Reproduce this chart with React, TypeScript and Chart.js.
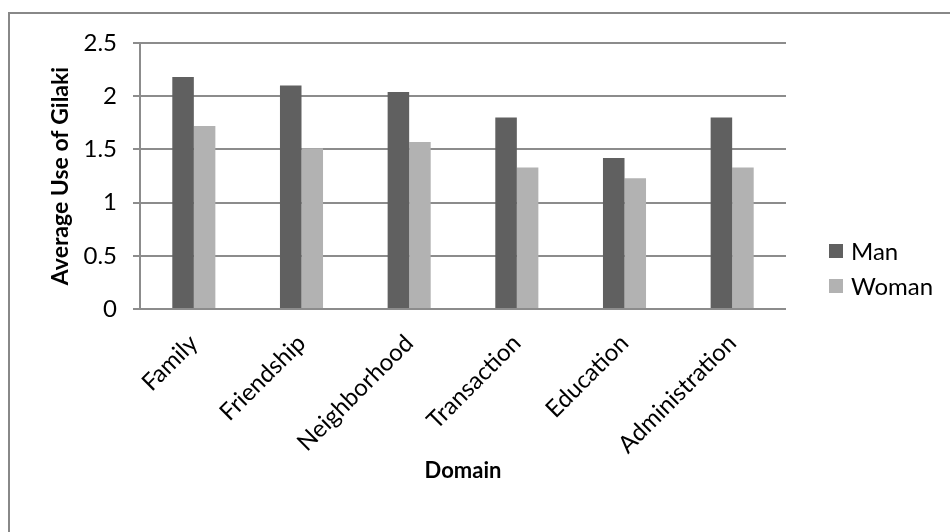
import React, { useEffect, useRef } from "react";
import { Chart, registerables } from "chart.js";

Chart.register(...registerables);

const domains = ["Family", "Friendship", "Neighborhood", "Transaction", "Education", "Administration"];
const manValues = [2.18, 2.1, 2.04, 1.8, 1.42, 1.8];
const womanValues = [1.72, 1.51, 1.57, 1.33, 1.23, 1.33];
const yTicks = [0, 0.5, 1, 1.5, 2, 2.5];

const FONT = "Lato, 'Open Sans', sans-serif";
const GRID = "#8c8c8c";

// Legend drawn at the right side, stacked vertically
const sideLegend = {
  id: "sideLegend",
  afterDraw(chart: any) {
    const ctx = chart.ctx;
    const x = 829;
    const ys = [251, 286];
    ctx.save();
    chart.data.datasets.forEach((ds: any, i: number) => {
      const y = ys[i];
      ctx.fillStyle = ds.backgroundColor;
      ctx.fillRect(x, y - 7, 14, 14);
      ctx.fillStyle = "#000";
      ctx.font = `24px ${FONT}`;
      ctx.textBaseline = "middle";
      ctx.textAlign = "left";
      ctx.fillText(ds.label, x + 22, y + 1);
    });
    ctx.restore();
  },
};

export default function App() {
  const ref = useRef<HTMLCanvasElement | null>(null);

  useEffect(() => {
    if (!ref.current) return;
    const chart = new Chart(ref.current, {
      type: "bar",
      data: {
        labels: domains,
        datasets: [
          { label: "Man", data: manValues, backgroundColor: "#606060" },
          { label: "Woman", data: womanValues, backgroundColor: "#b2b2b2" },
        ],
      },
      options: {
        animation: false,
        responsive: false,
        layout: { padding: { left: 0, top: 43, right: 164, bottom: 0 } },
        datasets: {
          bar: { categoryPercentage: 0.4, barPercentage: 1, borderWidth: 0 },
        },
        plugins: {
          legend: { display: false },
          tooltip: { enabled: false },
        },
        scales: {
          x: {
            grid: { display: false, drawTicks: false },
            border: { display: false },
            ticks: {
              color: "#000",
              font: { family: FONT, size: 24 },
              minRotation: 45,
              maxRotation: 45,
              padding: 20,
            },
            title: {
              display: true,
              text: "Domain",
              color: "#000",
              font: { family: FONT, size: 22, weight: "bold" },
              padding: { top: 0, bottom: 48 },
            },
            afterFit: (scale: any) => {
              scale.height = 223;
            },
          },
          y: {
            min: 0,
            max: 2.5,
            afterBuildTicks: (scale: any) => {
              scale.ticks = yTicks.map((v) => ({ value: v }));
            },
            grid: { color: GRID, lineWidth: 2, tickLength: 7 },
            border: { color: GRID, width: 2 },
            ticks: {
              color: "#000",
              font: { family: FONT, size: 24 },
              padding: 16,
              callback: (v: any) => String(v),
            },
            title: {
              display: true,
              text: "Average Use of Gilaki",
              color: "#000",
              font: { family: FONT, size: 23, weight: "bold" },
              padding: { top: 47, bottom: 0 },
            },
            afterFit: (scale: any) => {
              scale.width = 140;
            },
          },
        },
      },
      plugins: [sideLegend],
    });
    return () => chart.destroy();
  }, []);

  return (
    <div style={{ position: "fixed", left: 0, top: 0, width: 950, height: 532, background: "#fff" }}>
      <div
        style={{
          position: "absolute",
          left: 8,
          top: 12,
          right: 0,
          bottom: 0,
          borderLeft: "2px solid #888",
          borderTop: "2px solid #888",
        }}
      />
      <canvas ref={ref} width={950} height={532} style={{ position: "absolute", left: 0, top: 0 }} />
    </div>
  );
}
